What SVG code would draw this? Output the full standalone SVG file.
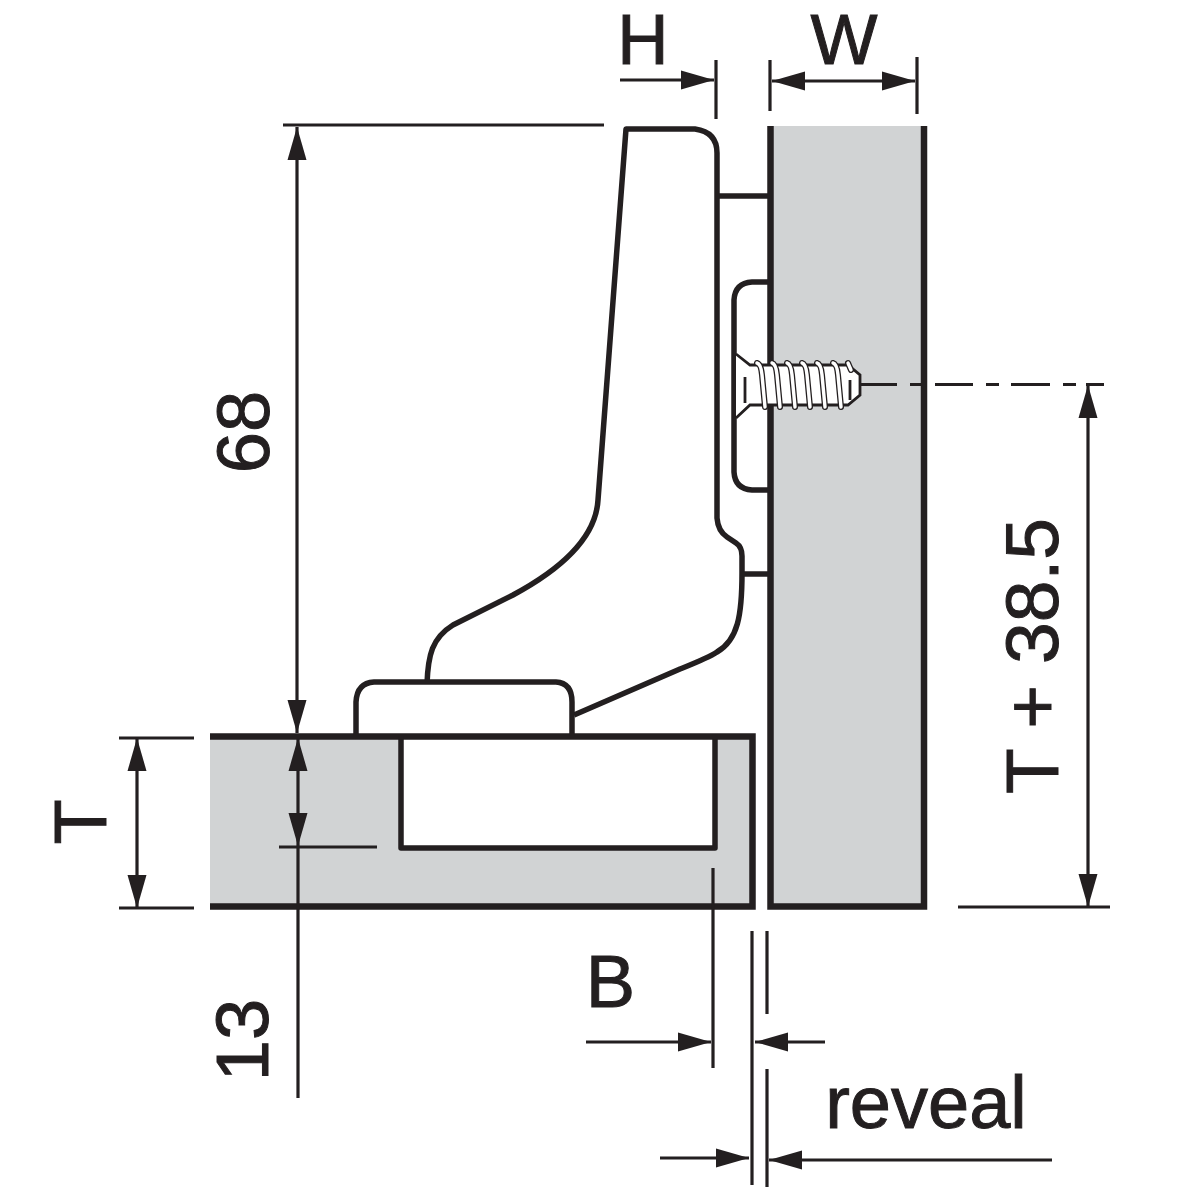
<svg xmlns="http://www.w3.org/2000/svg" width="1200" height="1200" viewBox="0 0 1200 1200">
<style>
text{font-family:"Liberation Sans",Arial,sans-serif;fill:#231f20;font-size:74px;stroke:#231f20;stroke-width:1}
.o{fill:none;stroke:#231f20;stroke-width:5.500;stroke-linejoin:round}
.e{fill:none;stroke:#231f20;stroke-width:6.500;stroke-linejoin:miter}
.d{fill:none;stroke:#231f20;stroke-width:3.200}
.p{fill:#d1d3d4}
.t1{fill:none;stroke:#231f20;stroke-width:6;stroke-linecap:round}
.t2{fill:none;stroke:#fff;stroke-width:3.400;stroke-linecap:round}
</style>
<defs>
<marker id="a" markerUnits="userSpaceOnUse" markerWidth="34" markerHeight="20" refX="33" refY="10" orient="auto-start-reverse"><path d="M0 0.500L33 10L0 19.500Z" fill="#231f20"/></marker>
<g id="thread"><path class="t1" d="M0 0Q4 1 5 12L8 44"/><path class="t2" d="M0 0Q4 1 5 12L8 44"/></g>
</defs>
<rect width="1200" height="1200" fill="#fff"/>
<g id="side-panel">
<rect class="p" x="770" y="126" width="154" height="781"/>
<path class="e" d="M770.500 126V906.500H924V126"/>
</g>
<g id="door-panel">
<path class="p" d="M210 736H752V907H210Z"/>
<path d="M400 738H715V848H400Z" fill="#fff"/>
<path class="e" d="M210 736.500H752.500V906.500H210"/>
<path class="o" d="M401 736V848H715V738"/>
</g>
<g id="hinge-arm">
<path class="o" d="M427 684C428 655 432 638 453 625L513 595C565 567 596 535 598 500L626 129H695Q717 132 717 153V518Q718 531 727 537L736 543Q742 547 742 556V573C742 615 738 640 717 652C708 658 695 663 680 669L574 715"/>
</g>
<g id="hinge-base">
<path class="o" d="M356 736V702Q357 683 374 682H556Q572 683 572 702V736"/>
</g>
<g id="mounting-plate">
<path class="o" d="M718 196H770M742 574H770M770 282H752Q735 283 734 300V472Q735 489 752 490H770"/>
</g>
<g id="screw">
<path d="M736 354L750 365H848L860 375V395L848 405H750L736 418Z" fill="#fff"/>
<path d="M736 354L750 365H848L860 375V395L848 405H750L736 418M745 377V403M850 380V400" fill="none" stroke="#231f20" stroke-width="2.800"/>
<use href="#thread" x="757" y="363"/>
<use href="#thread" x="772" y="363"/>
<use href="#thread" x="787" y="363"/>
<use href="#thread" x="802" y="363"/>
<use href="#thread" x="817" y="363"/>
<use href="#thread" x="833" y="363"/>
<path class="t1" d="M848 363L851 370"/><path class="t2" d="M848 363L851 370"/>
</g>
<g id="connectors">
<path class="d" d="M283 125H604"/>
<path class="d" d="M297 127V733" marker-start="url(#a)" marker-end="url(#a)"/>
<path class="d" d="M298 738V846" marker-start="url(#a)" marker-end="url(#a)"/>
<path class="d" d="M279 847H377M298 847V1098"/>
<path class="d" d="M119 738H194M119 908H194"/>
<path class="d" d="M137 738V908" marker-start="url(#a)" marker-end="url(#a)"/>
<path class="d" d="M620 80H714" marker-end="url(#a)"/>
<path class="d" d="M716 60V119M770 60V111M917 57V114"/>
<path class="d" d="M772 81H915" marker-start="url(#a)" marker-end="url(#a)"/>
<path class="d" d="M860 384.500H897M910 384.500H922M935 384.500H973M986 384.500H999M1011 384.500H1050M1063 384.500H1076M1086 384.500H1104"/>
<path class="d" d="M958 907H1110"/>
<path class="d" d="M1088 385V907" marker-start="url(#a)" marker-end="url(#a)"/>
<path class="d" d="M713 868V1068M752 931V1185M767 931V1014M767 1069V1187"/>
<path class="d" d="M586 1042H711" marker-end="url(#a)"/>
<path class="d" d="M825 1042H755" marker-end="url(#a)"/>
<path class="d" d="M660 1158H749" marker-end="url(#a)"/>
<path class="d" d="M1052 1160H769" marker-end="url(#a)"/>
</g>
<g id="labels">
<text x="643" y="64" text-anchor="middle" style="font-size:71px">H</text>
<text x="844" y="64" text-anchor="middle" style="font-size:71px">W</text>
<text x="635" y="1007" text-anchor="end">B</text>
<text x="926" y="1128" text-anchor="middle">reveal</text>
<text transform="translate(269 432) rotate(-90)" text-anchor="middle">68</text>
<text transform="translate(106 822) rotate(-90)" text-anchor="middle">T</text>
<text transform="translate(268 1040) rotate(-90)" text-anchor="middle">13</text>
<text transform="translate(1058 656) rotate(-90)" text-anchor="middle" style="font-size:75px">T + 38.5</text>
</g>
</svg>
